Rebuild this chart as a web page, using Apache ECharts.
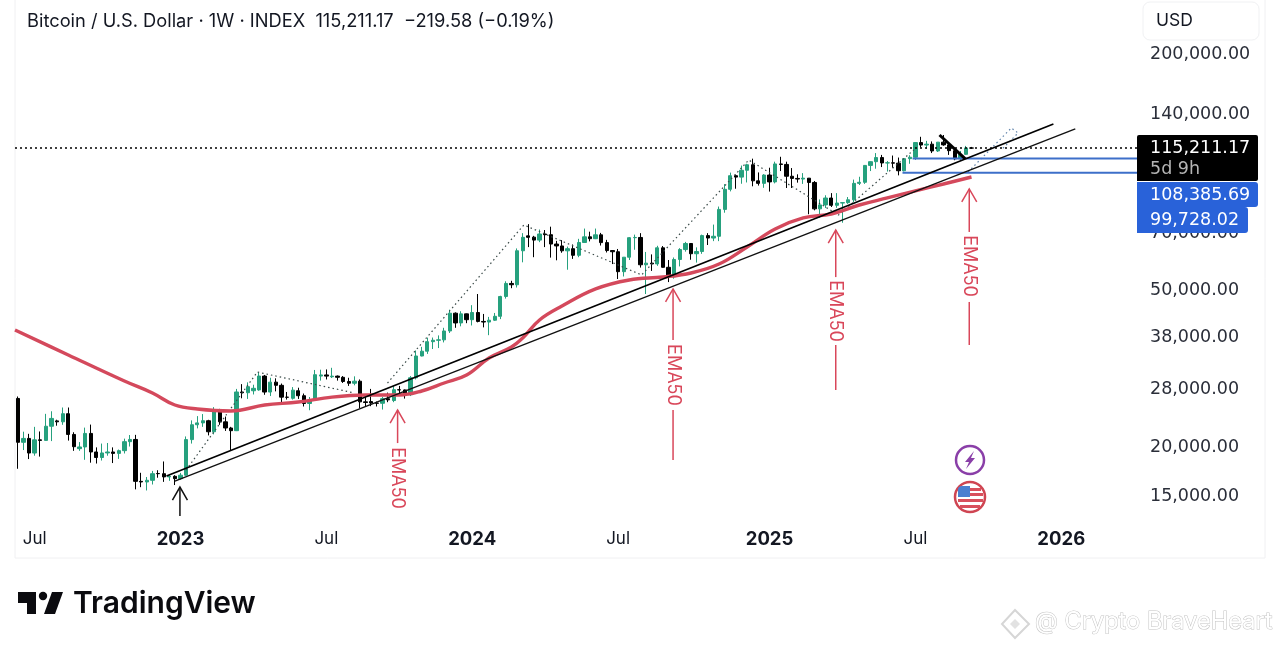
<!DOCTYPE html>
<html><head><meta charset="utf-8">
<style>html,body{margin:0;padding:0;background:#fff;overflow:hidden}#c{width:1280px;height:649px}</style>
<script src="https://cdn.jsdelivr.net/npm/echarts@6/dist/echarts.min.js"></script>
</head><body><div id="c"></div>
<script>
// [open, close, low, high] per week
const candles2022 = [[26574,20553,17600,26880],[20553,21027,19640,21870],[21027,19300,18630,21600],[19300,20850,19000,22500],[20850,20785,18900,21900],[20785,22580,20750,24280],[22580,23640,20700,24650],[23300,23170,22650,23460],[23170,24300,22770,25200],[24300,21520,20760,25200],[21520,20030,19550,21800],[19800,20000,19550,20580],[20000,21650,18550,22400],[21650,19420,18240,22800],[19420,18800,18150,19950],[18800,19310,18470,20400],[19310,19420,19000,20470],[19420,19260,18200,19950],[19260,19570,18650,19700],[19570,20630,19250,21000],[20630,20900,20050,21450],[20900,16350,15600,21470],[16350,16290,15800,17190],[16290,16450,15500,16770],[16450,17100,16050,17380],[17120,17100,16700,17450],[17100,16780,16300,18370],[16780,16840,16400,16950],[16840,16610,16000,16950]];
const candles2023 = [[16610,16950,16500,17180],[16950,20880,16900,21270],[20880,22780,20400,23370],[22780,23030,22300,23960],[23030,23320,22500,24250],[23320,21860,21400,23450],[21860,24630,21530,25250],[24630,23170,22770,25000],[23170,22350,21970,23900],[22350,22000,19550,22500],[22000,27600,21950,28100],[27600,27480,26600,28900],[27480,28470,26500,29200],[27800,28200,27200,28800],[27940,30300,27800,30900],[30300,27590,27150,30500],[27590,29240,26950,30000],[29240,28700,27700,29900],[28700,26780,25800,29000],[26780,26750,26400,27600],[26600,27900,26400,28400],[27800,27000,26500,28300],[27000,25800,25350,27350],[25800,26340,24800,26800],[26340,30540,26250,31400],[30300,30500,29500,31450],[30500,30290,29700,31500],[30170,30290,29950,31800],[30290,30080,29500,30400],[30080,29350,29100,30300],[29350,29050,28600,30000],[29050,29400,28700,30250],[29400,26050,25100,29700],[26050,25950,25300,26800],[26090,25870,25400,28100],[25870,25830,25350,26100],[25830,26530,24900,26800],[26530,26350,26000,27500],[26250,27970,26000,28600],[27970,27930,27160,28600],[27930,27160,26550,28000],[27160,29990,26950,30300],[29990,34080,29700,35200],[34080,35050,34000,35950],[35050,37060,34500,37950],[37060,37370,35500,37970],[37370,37460,35700,38450],[37460,39460,36900,40200],[39460,43790,39000,44700],[43790,41360,40200,44000],[41360,43620,40550,44300],[43620,42150,41300,43700]];
const candles2024 = [[42150,43970,40750,45900],[43970,41730,41500,49000],[41730,41580,40300,43600],[41580,42030,38500,42850],[42030,43000,41850,43850],[43000,48300,42300,48500],[48300,52130,47700,52800],[52130,51730,50700,52950],[51730,63130,50900,64000],[63130,68300,59000,70000],[68900,68300,64500,73800],[68380,67200,60800,68900],[67200,69650,66400,71500],[69650,69360,64500,71300],[69360,65670,60650,72700],[65670,64940,59700,66900],[64940,63110,62400,67200],[63110,63900,56500,64700],[63900,61480,60200,65500],[61480,66270,60800,67700],[66270,68500,66600,71900],[68500,67760,66700,70600],[67760,69310,67600,71900],[69310,66220,65100,70100],[66220,63210,62500,67300],[63210,62770,58400,63300],[62770,55850,53500,63800],[55850,60800,54300,60800],[60800,68160,59800,68400],[68160,68250,63500,69400],[68250,58160,57200,70000],[58160,58720,49000,62700],[58720,58450,56100,61800],[58450,64230,57800,65000],[64230,57300,57200,64900],[57300,54170,52550,59800],[54170,59990,53600,60700],[59990,63580,57600,64100],[63580,65880,62800,66500],[65880,62040,59900,66000],[62040,62850,58900,64400],[62850,69000,62000,69400],[69000,68020,65300,70000],[68020,68730,66800,73600],[68730,80450,66800,81800],[80450,90500,78900,93300],[90500,98000,89400,99800],[98000,97200,90800,98700],[97200,101170,93500,104000],[101170,104500,94200,105100],[104500,95100,92100,108300],[95100,93700,92500,99900]];
const candles2025 = [[93700,98400,91300,98900],[98400,94500,89300,102700],[94500,105000,93700,106400],[105000,104700,100700,109500],[104700,97700,91200,106400],[97700,96450,91200,102500],[96450,96100,94100,98800],[96100,96600,93400,99500],[96600,94200,78200,96500],[94200,80700,80000,95000],[80700,82600,76600,85300],[82600,86000,81100,87400],[86000,82400,81600,88500],[82400,83500,81200,88500],[83500,83700,74400,84000],[83700,85100,83100,86500],[85100,93700,83900,95800],[93700,94300,92800,97400],[94300,104100,93400,104300],[104100,106400,100700,106600],[106400,109000,102100,111900],[109000,105600,103100,110700],[105600,105700,100400,106800],[105700,105500,102700,110300],[105500,100900,98200,109000],[100900,108300,100500,108500],[108300,109200,105100,110500],[109200,119000,107500,119400],[119000,117300,115700,123100],[117300,117900,114700,120200],[117900,113300,111900,119800],[113300,119300,112600,119300],[119300,117400,116800,124400],[117400,113500,110700,117600],[113500,108200,107300,113600],[108200,111100,107300,113300],[111100,115300,110700,116700],[115300,115211,114700,116000]];
const ema50 = [[-0.5,39690],[9,34280],[19,29430],[24,27440],[28,25570],[32,24980],[38,24690],[44,25570],[50,26020],[56,26790],[62,27120],[68,27120],[72,27760],[76,29090],[80,30490],[84,33670],[88,35920],[90,37870],[93,42090],[97,45660],[103,50480],[109,53200],[115,54130],[120,55420],[125,58410],[130,64550],[135,71730],[140,76510],[145,78310],[150,82550],[155,86050],[160,89640],[165,93350],[170,97260]];
const trendUpper = [[26.5,16870],[184.6,132750]];
const trendLower = [[28,16380],[188.5,128900]];
const thickDown = [[164.3,124400],[168.9,108100]];
const zigzagA = [[30,17470],[42.7,31020],[60,27440]];
const zigzagB = [[65.9,29090],[90.2,73430],[111.2,54790],[130.3,107450],[146.3,77860],[159.7,113930]];
const zigzagForecast = [[169.4,100170],[177.1,129610],[178.3,125870],[175.3,113930]];
const lastPrice = 115211.17, level1 = 108385.69, level2 = 99728.02;
const level1Start = 159.5, level2Start = 157.7;
// arrows: [weekIndex, tip, shaftEnd, labelMid, shaft2Start, shaft2End]
const emaArrows = [[67.7,24830,20460,16670,null,null],[116.8,50480,37430,30490,24830,18530],[145.8,71300,54110,44350,36350,27920],[169.6,90710,70490,57730,46770,36350]];
const startArrow = [[28.9,15810,13350,null,null,null]];
const priceTicks = [15000,20000,28000,38000,50000,70000,140000,200000];
const xTickLabels = {3:'Jul',29:'2023',55:'Jul',81:'2024',107:'Jul',134:'2025',160:'Jul',186:'2026'};
const weekCount = 200;

const candles = [...candles2022,...candles2023,...candles2024,...candles2025];
const t0 = Date.UTC(2022,5,13);
const weeks = Array.from({length:weekCount},(_,i)=>new Date(t0+i*7*864e5).toISOString().slice(0,10));
const up='#26a17e', down='#000000', red='#d9475a', blue='#2962d9';
const F='Inter, "Liberation Sans", sans-serif';
const P='"DejaVu Sans", sans-serif';
const fmt=v=>v.toLocaleString('en-US',{minimumFractionDigits:2,maximumFractionDigits:2});

function lineS(data,width,color,type,z,smooth){return {type:'line',xAxisIndex:1,yAxisIndex:0,data,showSymbol:false,symbol:'none',silent:true,z:z||3,clip:true,smooth:smooth||false,lineStyle:{width,color,type:type||'solid'},animation:false};}

function arrowRender(color,w){return function(params,api){
  const x=api.value(0);
  const tip=api.coord([x,api.value(1)]), end=api.coord([x,api.value(2)]);
  const ch=[{type:'line',shape:{x1:tip[0],y1:tip[1],x2:end[0],y2:end[1]},style:{stroke:color,lineWidth:w}},
   {type:'polyline',shape:{points:[[tip[0]-7.5,tip[1]+13],[tip[0],tip[1]],[tip[0]+7.5,tip[1]+13]]},style:{stroke:color,lineWidth:w,fill:'none'}}];
  const mid=api.value(3);
  if(mid===mid&&mid!=null&&mid>0){const m=api.coord([x,mid]);
    ch.push({type:'text',x:m[0],y:m[1],rotation:-Math.PI/2,style:{text:'EMA50',fill:color,font:'18px '+F,align:'center',verticalAlign:'middle',textAlign:'center',textVerticalAlign:'middle'}});}
  const s=api.value(4),e=api.value(5);
  if(s===s&&e===e&&s>0&&e>0){const a=api.coord([x,s]),b=api.coord([x,e]);
    ch.push({type:'line',shape:{x1:a[0],y1:a[1],x2:b[0],y2:b[1]},style:{stroke:color,lineWidth:w}});}
  return {type:'group',children:ch};
};}

const G=[];
G.push({type:'rect',shape:{x:15,y:-2,width:1250,height:560},style:{fill:'none',stroke:'#f0f0f2',lineWidth:1},z:0,silent:true});
G.push({type:'text',x:27,y:22,style:{text:'Bitcoin / U.S. Dollar · 1W · INDEX  115,211.17  −219.58 (−0.19%)',font:'18.3px '+F,fill:'#131722',verticalAlign:'middle'},z:20});
G.push({type:'rect',shape:{x:1143,y:2,width:116,height:38,r:7},style:{fill:'#fff',stroke:'#f0f1f3',lineWidth:1},z:5});
G.push({type:'text',x:1156,y:21,style:{text:'USD',font:'17.5px '+F,fill:'#131722',verticalAlign:'middle'},z:6});
// price tags
G.push({type:'rect',shape:{x:1137,y:135,width:121,height:46,r:[2,2,2,0]},style:{fill:'#000'},z:10});
G.push({type:'text',x:1150,y:148,style:{text:fmt(lastPrice),font:'17.5px '+P,fill:'#fff',verticalAlign:'middle'},z:11});
G.push({type:'text',x:1150,y:169,style:{text:'5d 9h',font:'17.5px '+P,fill:'#b4b4b4',verticalAlign:'middle'},z:11});
G.push({type:'rect',shape:{x:1137,y:182,width:121,height:25,r:[0,3,3,0]},style:{fill:blue},z:10});
G.push({type:'text',x:1150,y:195,style:{text:fmt(level1),font:'17.5px '+P,fill:'#fff',verticalAlign:'middle'},z:11});
G.push({type:'rect',shape:{x:1137,y:207,width:111,height:26,r:[0,3,3,0]},style:{fill:blue},z:10});
G.push({type:'text',x:1150,y:220,style:{text:fmt(level2),font:'17.5px '+P,fill:'#fff',verticalAlign:'middle'},z:11});
// TradingView logo
G.push({type:'polygon',shape:{points:[[18,592],[36,592],[36,614],[27,614],[27,603],[18,603]]},style:{fill:'#0b0b0f'},z:5});
G.push({type:'circle',shape:{cx:43,cy:596,r:4.2},style:{fill:'#0b0b0f'},z:5});
G.push({type:'polygon',shape:{points:[[52,592],[63,592],[55,614],[44,614]]},style:{fill:'#0b0b0f'},z:5});
G.push({type:'text',x:73,y:604,style:{text:'TradingView',font:'600 30px '+F,fill:'#0b0b0f',verticalAlign:'middle'},z:5});
// watermark
G.push({type:'polygon',shape:{points:[[1015,610],[1029,624],[1015,638],[1002,624]]},style:{fill:'none',stroke:'#d6d6d6',lineWidth:2},z:5});
G.push({type:'polygon',shape:{points:[[1015,619],[1020,624],[1015,629],[1010,624]]},style:{fill:'#e2e2e2'},z:5});
G.push({type:'text',x:1035,y:622,style:{text:'@ Crypto BraveHeart',font:'23.6px '+F,fill:'#fff',stroke:'#c4c4c4',lineWidth:1,verticalAlign:'middle'},z:5});
// event icons
G.push({type:'circle',shape:{cx:970,cy:460,r:14},style:{fill:'#fff',stroke:'#8a3fa8',lineWidth:2.5},z:12});
G.push({type:'polygon',shape:{points:[[974,451],[965,462],[969,462],[966,469],[975,458],[971,458]]},style:{fill:'#8a3fa8'},z:13});
G.push({type:'circle',shape:{cx:970,cy:497,r:15},style:{fill:'#fff',stroke:'#cf4552',lineWidth:2.5},z:12});
[[959,488,22,3],[958,493,25,3],[958,499,25,3],[960,505,20,3]].forEach(r=>G.push({type:'rect',shape:{x:r[0],y:r[1],width:r[2],height:r[3]},style:{fill:'#d8505c'},z:13}));
G.push({type:'rect',shape:{x:958,y:486,width:12,height:11,r:[4,0,0,0]},style:{fill:'#4a7fd0'},z:14});

const chart=echarts.init(document.getElementById('c'),null,{renderer:'canvas'});
chart.setOption({
 animation:false,backgroundColor:'#fff',
 grid:{left:15,top:6,width:1122,height:519,containLabel:false},
 xAxis:[{type:'category',data:weeks,boundaryGap:true,axisLine:{show:false},axisTick:{show:false},splitLine:{show:false},
   axisLabel:{interval:(i)=>xTickLabels[i]!==undefined,margin:5,hideOverlap:false,
     formatter:(v,i)=>{const s=xTickLabels[i];return s==='Jul'?'{m|Jul}':'{y|'+s+'}';},
     rich:{m:{fontFamily:'Inter',fontSize:17,color:'#131722'},y:{fontFamily:'Inter',fontWeight:700,fontSize:18.5,color:'#131722'}}}},
  {type:'value',show:false,min:-0.5,max:weekCount-0.5,splitLine:{show:false}}],
 yAxis:{type:'log',position:'right',min:12660,max:264900,logBase:10,axisLine:{show:false},axisTick:{show:false},splitLine:{show:false},minorSplitLine:{show:false},
   axisLabel:{customValues:priceTicks,margin:13,formatter:v=>fmt(v),fontFamily:'DejaVu Sans',fontSize:17.5,color:'#2a2e39'}},
 graphic:G,
 series:[
  {type:'candlestick',xAxisIndex:0,yAxisIndex:0,data:candles,barWidth:3.8,z:2,silent:true,
   itemStyle:{color:up,color0:down,borderColor:up,borderColor0:down,borderWidth:1},
   markLine:{silent:true,symbol:'none',label:{show:false},animation:false,lineStyle:{color:'#000',type:[2,3],width:1.7},data:[{yAxis:lastPrice}]}},
  lineS(ema50,3.4,'#d4495c','solid',4,0.4),
  lineS(trendUpper,1.7,'#000','solid',5),
  lineS(trendLower,1.4,'#111','solid',5),
  lineS(thickDown,3,'#000','solid',6),
  lineS(zigzagA,1.2,'#3a4a48',[1.5,3]),
  lineS(zigzagB,1.2,'#3a4a48',[1.5,3]),
  lineS(zigzagForecast,1.2,'#5b7fa8',[1.5,3]),
  lineS([[level1Start,level1],[weekCount-0.5,level1]],1.8,'#3d6fc9','solid',4),
  lineS([[level2Start,level2],[weekCount-0.5,level2]],1.8,'#3d6fc9','solid',4),
  {type:'custom',xAxisIndex:1,yAxisIndex:0,data:emaArrows,renderItem:arrowRender(red,1.5),silent:true,z:7,encode:{x:0,y:1},clip:false},
  {type:'custom',xAxisIndex:1,yAxisIndex:0,data:startArrow,renderItem:arrowRender('#111',1.5),silent:true,z:7,encode:{x:0,y:1},clip:false}
 ]
});
</script></body></html>
